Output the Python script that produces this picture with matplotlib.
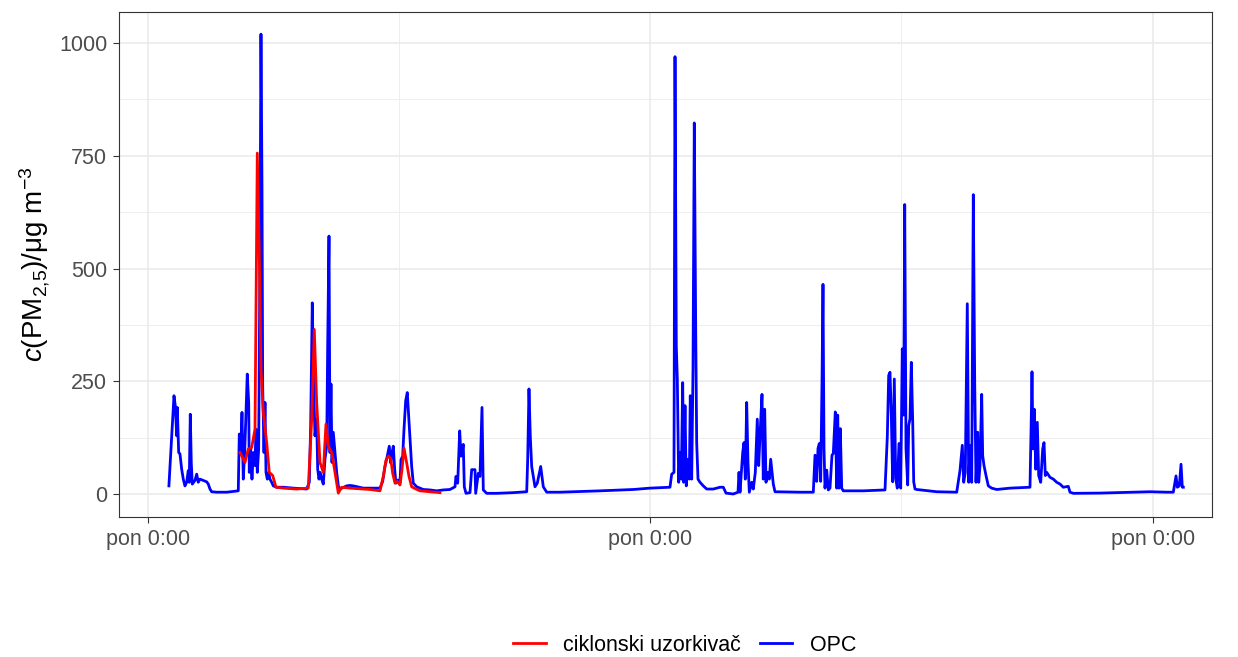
import numpy as np
import matplotlib
matplotlib.use("Agg")
import matplotlib.pyplot as plt
from matplotlib.ticker import FixedLocator

plt.rcParams['font.family'] = ['Liberation Sans', 'DejaVu Sans']
plt.rcParams['mathtext.fontset'] = 'custom'
plt.rcParams['mathtext.rm'] = 'Liberation Sans'
plt.rcParams['mathtext.it'] = 'Liberation Sans:italic'

# time in hours since the first Monday 0:00
opc_h = [7.0, 8.70, 9.13, 9.60, 9.80, 10.27, 10.70, 11.27, 11.81, 12.37, 12.94, 13.48, 13.81,
         14.15, 14.48, 14.82, 15.72, 16.29, 16.82, 17.39, 18.50, 19.63, 20.17, 20.74, 21.30,
         22.98, 26.32, 30.20, 30.54, 31.00, 31.44, 31.87, 32.34, 32.78, 33.21, 33.68, 33.88,
         34.35, 34.78, 35.22, 35.79, 36.12, 36.56, 37.02, 37.22, 37.46, 37.79, 38.13, 38.36,
         38.80, 39.13, 39.47, 39.90, 40.37, 40.80, 41.37, 41.91, 43.04, 45.25, 48.60, 53.08,
         53.95, 54.41, 54.95, 55.42, 55.85, 56.42, 56.76, 57.19, 57.53, 58.09, 58.63, 59.20,
         59.77, 60.10, 60.54, 60.87, 61.20, 61.54, 61.97, 62.54, 63.11, 63.65, 64.21, 66.45,
         67.56, 68.66, 72.01, 77.59, 78.49, 79.26, 80.03, 80.70, 81.17, 81.61, 82.04, 82.51,
         82.94, 83.71, 84.28, 84.62, 85.18, 85.62, 86.19, 86.72, 87.06, 87.63, 88.19, 88.73,
         89.87, 92.07, 94.31, 96.56, 98.76, 101.00, 102.68, 103.01, 103.58, 104.25, 104.68,
         105.45, 105.79, 106.36, 107.69, 108.26, 108.80, 109.37, 109.60, 110.47, 111.04,
         111.71, 112.14, 113.28, 116.62, 122.17, 126.66, 126.99, 127.42, 127.86, 128.33,
         128.86, 129.43, 130.20, 130.87, 131.34, 131.77, 132.21, 133.35, 137.79, 151.17,
         162.31, 167.89, 174.58, 175.15, 175.92, 176.26, 176.69, 177.03, 177.49, 177.93,
         178.36, 178.83, 179.16, 179.60, 180.03, 180.60, 181.04, 181.37, 181.84, 182.28,
         182.71, 183.18, 183.51, 183.95, 184.62, 185.72, 186.86, 189.06, 191.31, 192.41,
         193.31, 195.75, 197.33, 197.66, 198.00, 198.90, 199.33, 199.77, 200.23, 200.67,
         201.11, 201.90, 202.44, 203.11, 203.78, 204.25, 204.68, 205.35, 205.78, 206.25,
         206.69, 207.25, 207.79, 208.26, 208.70, 209.13, 209.70, 218.06, 222.51, 223.08,
         223.64, 224.08, 224.52, 224.98, 225.42, 225.75, 226.09, 226.42, 226.99, 227.53,
         228.09, 228.76, 229.20, 229.87, 230.34, 230.67, 231.11, 231.54, 232.01, 232.54,
         239.23, 246.49, 247.26, 247.72, 248.16, 248.60, 249.06, 249.60, 250.06, 250.60,
         251.17, 251.74, 252.27, 252.74, 253.08, 253.51, 254.08, 254.42, 254.85, 255.29,
         255.76, 256.09, 256.52, 257.09, 263.78, 270.47, 271.14, 271.57, 272.34, 272.81,
         273.34, 274.01, 274.48, 274.92, 275.49, 276.02, 276.49, 276.92, 277.49, 277.83,
         278.26, 278.83, 279.16, 279.60, 280.27, 281.04, 282.17, 283.85, 288.30, 294.98,
         295.42, 295.65, 295.99, 296.42, 296.89, 297.42, 297.89, 298.56, 299.23, 299.67,
         300.10, 300.57, 301.67, 302.78, 303.92, 305.02, 306.12, 307.79, 308.36, 309.47,
         318.40, 329.43, 335.12, 340.70, 342.91, 343.38, 343.82, 344.25, 344.92, 345.49,
         345.92, 346.26]
opc_c = [18, 218, 196, 129, 192, 92, 89, 55, 33, 18, 26, 52, 26,
         177, 70, 22, 30, 44, 26, 33, 30, 27, 22, 11, 5,
         4, 4, 7, 133, 92, 181, 33, 92, 181, 266, 203, 48,
         100, 33, 92, 63, 144, 48, 100, 299, 535, 1020, 683, 240,
         92, 203, 48, 33, 48, 33, 26, 18, 15, 15, 13, 11,
         26, 151, 424, 240, 129, 166, 55, 33, 48, 33, 22, 77,
         107, 328, 572, 92, 244, 70, 137, 92, 48, 18, 11, 18,
         19, 18, 13, 13, 28, 61, 84, 106, 69, 91, 106, 54,
         24, 31, 24, 76, 84, 143, 207, 225, 188, 128, 61, 24,
         16, 10, 9, 7, 9, 10, 16, 39, 24, 140, 84,
         110, 16, 1.5, 3, 54, 54, 54, 1.5, 46, 39,
         192, 9, 1.5, 1.5, 3, 5, 76, 233, 128, 61,
         39, 16, 24, 46, 61, 39, 16, 4, 4, 7,
         10, 13, 15, 44, 48, 970, 328, 255, 26, 92,
         33, 247, 26, 196, 18, 77, 33, 218, 33, 277,
         823, 367, 114, 33, 26, 18, 11, 11, 15, 15,
         2, 0, 4, 48, 4, 92, 114, 33, 203, 70,
         4, 26, 11, 48, 166, 63, 129, 221, 33, 188,
         26, 48, 33, 77, 48, 22, 5, 4, 4, 86,
         28, 101, 112, 28, 248, 465, 101, 13, 53, 9,
         13, 86, 90, 182, 13, 175, 13, 145, 13, 7,
         7, 9, 127, 263, 270, 175, 27, 255, 35, 13,
         112, 13, 322, 175, 642, 101, 20, 152, 167, 292,
         159, 27, 11, 10, 5, 4, 33, 52, 108, 26,
         48, 422, 26, 107, 26, 664, 247, 26, 137, 26,
         63, 221, 85, 63, 41, 18, 13, 10, 13, 15,
         173, 271, 100, 188, 55, 159, 41, 26, 100, 114,
         41, 48, 37, 33, 26, 22, 15, 17, 4, 1.5,
         2, 4, 5, 4, 4, 22, 40, 15, 18, 66,
         15, 15]

cik_h = [30.77, 32.44, 33.55, 34.68, 35.79, 36.56, 37.22, 37.79, 38.56, 39.70, 40.57, 41.71,
         42.81, 45.25, 49.73, 53.61, 54.75, 55.62, 56.42, 57.53, 58.63, 59.53, 60.30, 61.44,
         62.54, 63.65, 64.78, 67.56, 74.25, 77.59, 78.70, 79.60, 80.37, 81.17, 81.84, 82.61,
         83.38, 84.28, 84.95, 85.62, 86.52, 87.29, 88.19, 89.30, 90.97, 94.31, 97.66]
cik_c = [92, 70, 100, 103, 144, 756, 535, 277, 181, 114, 48, 41,
         15, 13, 11, 13, 166, 365, 203, 70, 48, 155, 107, 92,
         48, 2, 15, 13, 10, 7, 39, 75, 84, 79, 46, 24,
         28, 20, 54, 102, 69, 39, 16, 12, 7, 5, 3]

x_major = [0, 168, 336]
x_labels = ['pon 0:00', 'pon 0:00', 'pon 0:00']
x_minor = [84, 252]
y_major = [0, 250, 500, 750, 1000]
y_minor = [125, 375, 625, 875]

fig = plt.figure(figsize=(12.38, 6.57), dpi=100)
ax = fig.add_axes([0.0961, 0.2131, 0.8829, 0.7686])

ax.plot(opc_h, opc_c, color='#0000FF', lw=2.0, label='OPC', zorder=3)
ax.plot(cik_h, cik_c, color='#FF0000', lw=2.0, label='ciklonski uzorkivač', zorder=4)

ax.set_xlim(-9.7, 355.85)
ax.set_ylim(-51, 1069)

ax.xaxis.set_major_locator(FixedLocator(x_major))
ax.xaxis.set_minor_locator(FixedLocator(x_minor))
ax.yaxis.set_major_locator(FixedLocator(y_major))
ax.yaxis.set_minor_locator(FixedLocator(y_minor))
ax.set_xticklabels(x_labels)

ax.grid(which='major', color='#EBEBEB', lw=1.2, zorder=0)
ax.grid(which='minor', color='#EBEBEB', lw=0.6, zorder=0)
ax.set_axisbelow(True)
ax.tick_params(which='major', length=4.5, width=0.8, color='#333333',
               labelsize=15.5, labelcolor='#4D4D4D', pad=4)
ax.tick_params(which='minor', length=0)
for s in ax.spines.values():
    s.set_color('#333333')
    s.set_linewidth(0.8)

ax.set_ylabel(r'$\mathit{c}$(PM$_{2{,}5}$)/μg m$^{-3}$', fontsize=20, labelpad=5)

h, l = ax.get_legend_handles_labels()
fig.legend(h[::-1], l[::-1], loc='center', bbox_to_anchor=(0.553, 0.018), ncol=2,
           frameon=False, fontsize=15.5, handlelength=1.5, columnspacing=0.9,
           handletextpad=0.8)

fig.savefig('out.png', dpi=100)
